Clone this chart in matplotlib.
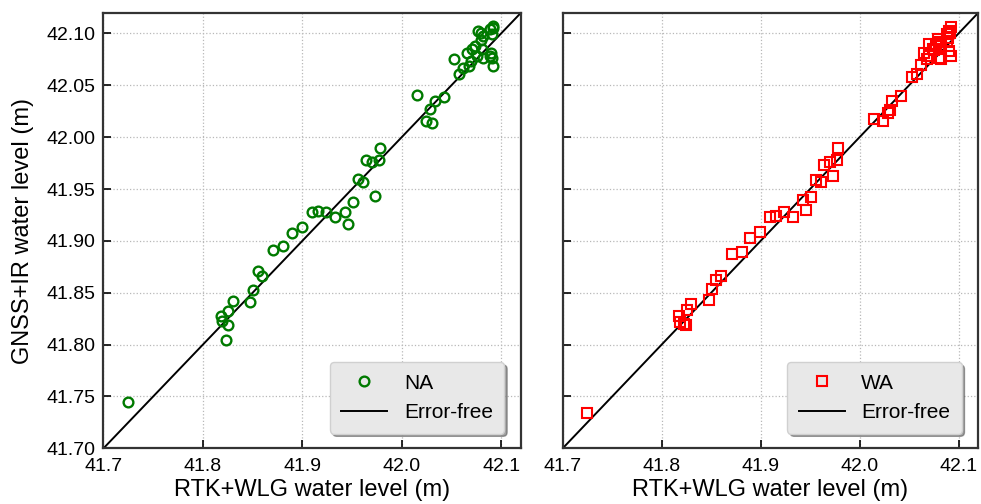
"""GNSS-IR vs RTK+WLG water level: NA (green circles) and WA (red squares)."""
import numpy as np
import matplotlib
matplotlib.use("Agg")
import matplotlib.pyplot as plt

plt.rcParams["font.family"] = ["Liberation Sans", "DejaVu Sans"]

# reference water level (x), shared by both panels
rtk_wlg = [41.7243,
           41.8180, 41.8190, 41.8230, 41.8250, 41.8255, 41.8300,
           41.8475, 41.8505, 41.8550, 41.8595, 41.8708, 41.8807, 41.8896,
           41.8997, 41.9094, 41.9158, 41.9237, 41.9328, 41.9432, 41.9458,
           41.9510, 41.9564, 41.9611, 41.9644, 41.9706, 41.9735, 41.9770,
           41.9779,
           42.0150, 42.0240, 42.0285, 42.0307, 42.0331, 42.0423,
           42.0529, 42.0580, 42.0620, 42.0654, 42.0680, 42.0700, 42.0705,
           42.0737, 42.0755, 42.0771, 42.0795, 42.0800, 42.0805, 42.0818,
           42.0821, 42.0888, 42.0888, 42.0895, 42.0905, 42.0905, 42.0921,
           42.0921, 42.0915]

# GNSS+IR water level, no correction (NA)
gnss_na = [41.7450,
           41.8272, 41.8223, 41.8046, 41.8191, 41.8327, 41.8424,
           41.8414, 41.8527, 41.8713, 41.8658, 41.8909, 41.8947, 41.9072,
           41.9130, 41.9274, 41.9291, 41.9281, 41.9230, 41.9274, 41.9165,
           41.9371, 41.9596, 41.9563, 41.9775, 41.9756, 41.9429, 41.9775,
           41.9900,
           42.0404, 42.0151, 42.0269, 42.0138, 42.0346, 42.0391,
           42.0758, 42.0607, 42.0671, 42.0809, 42.0690, 42.0735, 42.0846,
           42.0880, 42.0783, 42.1025, 42.1003, 42.0935, 42.0846, 42.0760,
           42.0977, 42.0783, 42.1041, 42.0809, 42.0993, 42.0768, 42.0687,
           42.1073, 42.1055]

# GNSS+IR water level, with correction (WA)
gnss_wa = [41.7340,
           41.8278, 41.8214, 41.8200, 41.8191, 41.8336, 41.8394,
           41.8427, 41.8533, 41.8626, 41.8665, 41.8876, 41.8892, 41.9027,
           41.9085, 41.9233, 41.9242, 41.9281, 41.9230, 41.9396, 41.9294,
           41.9422, 41.9589, 41.9570, 41.9727, 41.9759, 41.9621, 41.9775,
           41.9900,
           42.0179, 42.0156, 42.0230, 42.0260, 42.0349, 42.0397,
           42.0581, 42.0607, 42.0700, 42.0816, 42.0752, 42.0780, 42.0897,
           42.0848, 42.0840, 42.0900, 42.0945, 42.0920, 42.0768, 42.0750,
           42.0880, 42.0913, 42.0993, 42.0960, 42.1020, 42.0832, 42.0784,
           42.1058, 42.1000]

lims = (41.70, 42.12)
xticks = [41.7, 41.8, 41.9, 42.0, 42.1]
yticks = [41.70, 41.75, 41.80, 41.85, 41.90, 41.95, 42.00, 42.05, 42.10]

fig = plt.figure(figsize=(9.81, 5.04), dpi=100)
ax1 = fig.add_axes([0.1055, 0.1105, 0.4256, 0.8643])
ax2 = fig.add_axes([0.5736, 0.1105, 0.4237, 0.8643])

panels = [(ax1, gnss_na, "NA", dict(marker="o", color="#007a00", ms=7, mew=1.7)),
          (ax2, gnss_wa, "WA", dict(marker="s", color="#ff0000", ms=6.8, mew=1.5))]

for ax, yy, lab, mk in panels:
    ax.plot(rtk_wlg, yy, ls="none", marker=mk["marker"], ms=mk["ms"],
            mfc="none", mec=mk["color"], mew=mk["mew"], label=lab, zorder=3)
    ax.plot(lims, lims, color="black", lw=1.4, label="Error-free", zorder=2)
    ax.set_xlim(lims)
    ax.set_ylim(lims)
    ax.set_xticks(xticks)
    ax.set_xticklabels([f"{v:.1f}" for v in xticks])
    ax.set_yticks(yticks)
    ax.grid(True, ls=":", color="#b8b8b8", lw=0.9)
    ax.set_axisbelow(True)
    ax.tick_params(direction="in", length=6, width=1.2, labelsize=14,
                   top=False, right=False)
    ax.tick_params(axis="x", pad=7)
    ax.tick_params(axis="y", pad=6)
    for sp in ax.spines.values():
        sp.set_linewidth(1.6)
        sp.set_color("#333333")
    ax.set_xlabel("RTK+WLG water level (m)", fontsize=17, labelpad=3)
    leg = ax.legend(loc="lower right", fontsize=15, numpoints=1, fancybox=True,
                    shadow=True, framealpha=1, facecolor="#e8e8e8",
                    edgecolor="#d0d0d0", borderpad=0.55, handlelength=2.2,
                    bbox_to_anchor=(0.985, 0.01))

ax1.set_yticklabels([f"{v:.2f}" for v in yticks])
ax1.set_ylabel("GNSS+IR water level (m)", fontsize=17, labelpad=9)
ax2.set_yticklabels([])

fig.savefig("out.png", dpi=100)
